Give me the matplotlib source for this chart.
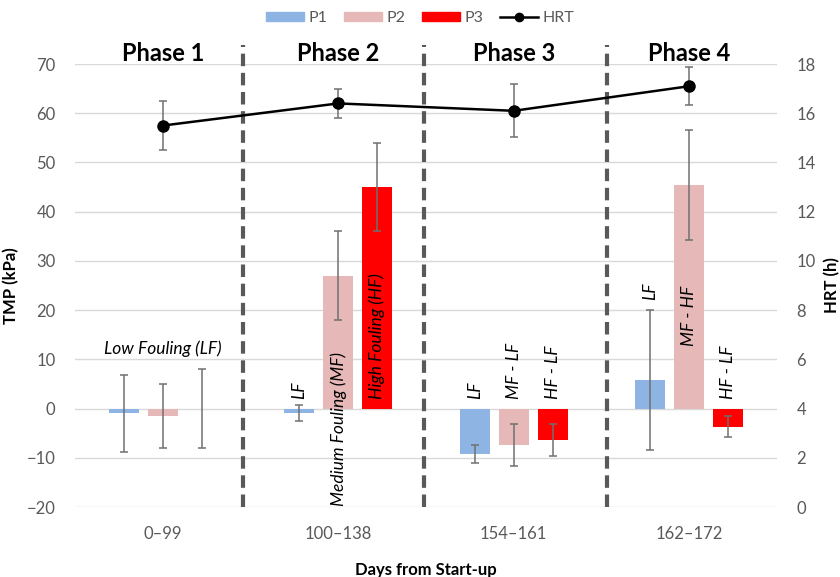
import numpy as np
import matplotlib
matplotlib.use("Agg")
import matplotlib.pyplot as plt
from matplotlib.patches import Patch
from matplotlib.lines import Line2D

plt.rcParams['font.family'] = ['Lato', 'DejaVu Sans']

# data
periods = ['0\u201399', '100\u2013138', '154\u2013161', '162\u2013172']
phases = ['Phase 1', 'Phase 2', 'Phase 3', 'Phase 4']
p1 = [-1.0, -0.9, -9.2, 5.8]
p1_err = [7.8, 1.6, 1.8, 14.2]
p2 = [-1.6, 27.0, -7.4, 45.4]
p2_err = [6.5, 9.0, 4.2, 11.1]
p3 = [0.0, 45.0, -6.4, -3.7]
p3_err = [8.1, 8.9, 3.2, 2.1]
hrt = [15.5, 16.4, 16.1, 17.1]
hrt_err = [1.0, 0.6, 1.07, 0.78]

c_p1 = '#8EB4E3'
c_p2 = '#E6B9B8'
c_p3 = '#FF0000'
gray = '#595959'
egray = '#707070'

fig = plt.figure(figsize=(8.4, 5.77), dpi=100)
ax = fig.add_axes([0.0893, 0.1213, 0.8357, 0.7677])

x = np.arange(len(periods))
off = 0.222
w = 0.171
ekw = dict(ecolor=egray, elinewidth=1.1, capsize=3, capthick=1.1)
ax.bar(x - off, p1, w, color=c_p1, yerr=p1_err, error_kw=ekw, zorder=2)
ax.bar(x, p2, w, color=c_p2, yerr=p2_err, error_kw=ekw, zorder=2)
ax.bar(x + off, p3, w, color=c_p3, yerr=p3_err, error_kw=ekw, zorder=2)

ax.set_xlim(-0.5, 3.5)
ax.set_ylim(-20, 70)
ax.set_yticks(range(-20, 71, 10))
ax.set_yticklabels([str(v).replace('-', '\u2212') for v in range(-20, 71, 10)])
ax.set_xticks(x)
ax.set_xticklabels(periods)
ax.grid(axis='y', color='#D9D9D9', linewidth=1, zorder=0)
ax.set_axisbelow(True)
for s in ax.spines.values():
    s.set_visible(False)
ax.tick_params(length=0, labelsize=12, colors=gray, pad=14)
ax.tick_params(axis='x', pad=14)
ax.set_ylabel('TMP (kPa)', fontsize=12, fontweight='bold', labelpad=5)
ax.set_xlabel('Days from Start-up', fontsize=12, fontweight='bold', labelpad=14)

# phase separators
trans = ax.get_xaxis_transform()
for xb in [0.46, 1.49, 2.53]:
    ax.plot([xb, xb], [0, 1.043], transform=trans, color=gray, lw=3,
            ls=(0, (3, 1.6)), clip_on=False, zorder=3)
for xi, ph in zip(x, phases):
    ax.text(xi, 1.024, ph, transform=trans, ha='center', va='center',
            fontsize=17, fontweight='bold')

# annotations
it = dict(style='italic', fontsize=12.5, rotation=90, ha='center', va='bottom', zorder=5)
ax.text(0, 12.2, 'Low Fouling (LF)', style='italic', fontsize=12.5, ha='center', va='center')
ax.text(1 - off, 2, 'LF', **it)
ax.text(1, -19.8, 'Medium Fouling (MF)', **it)
ax.text(1 + off, 2, 'High Fouling (HF)', **it)
ax.text(2 - off, 2, 'LF', **it)
ax.text(2, 2, 'MF - LF', **it)
ax.text(2 + off, 2, 'HF - LF', **it)
ax.text(3 - off, 22, 'LF', **it)
ax.text(3, 12.8, 'MF - HF', **it)
ax.text(3 + off, 2, 'HF - LF', **it)

# HRT on right axis
ax2 = ax.twinx()
ax2.errorbar(x, hrt, yerr=hrt_err, color='black', lw=1.8, marker='o', ms=8,
             ecolor=egray, elinewidth=1.1, capsize=3, capthick=1.1, zorder=4)
ax2.set_ylim(0, 18)
ax2.set_yticks(range(0, 19, 2))
for s in ax2.spines.values():
    s.set_visible(False)
ax2.tick_params(length=0, labelsize=12, colors=gray, pad=14)
ax2.set_ylabel('HRT (h)', fontsize=12, fontweight='bold', labelpad=6)

handles = [Patch(color=c_p1, label='P1'), Patch(color=c_p2, label='P2'),
           Patch(color=c_p3, label='P3'),
           Line2D([], [], color='black', lw=1.8, marker='o', ms=6, label='HRT')]
fig.legend(handles=handles, loc='center', bbox_to_anchor=(0.5, 0.969), ncol=4,
           frameon=False, fontsize=11.5, handlelength=2.4, handleheight=0.5,
           columnspacing=1.0, handletextpad=0.3, labelcolor=gray)

fig.savefig('out.png', dpi=100)
